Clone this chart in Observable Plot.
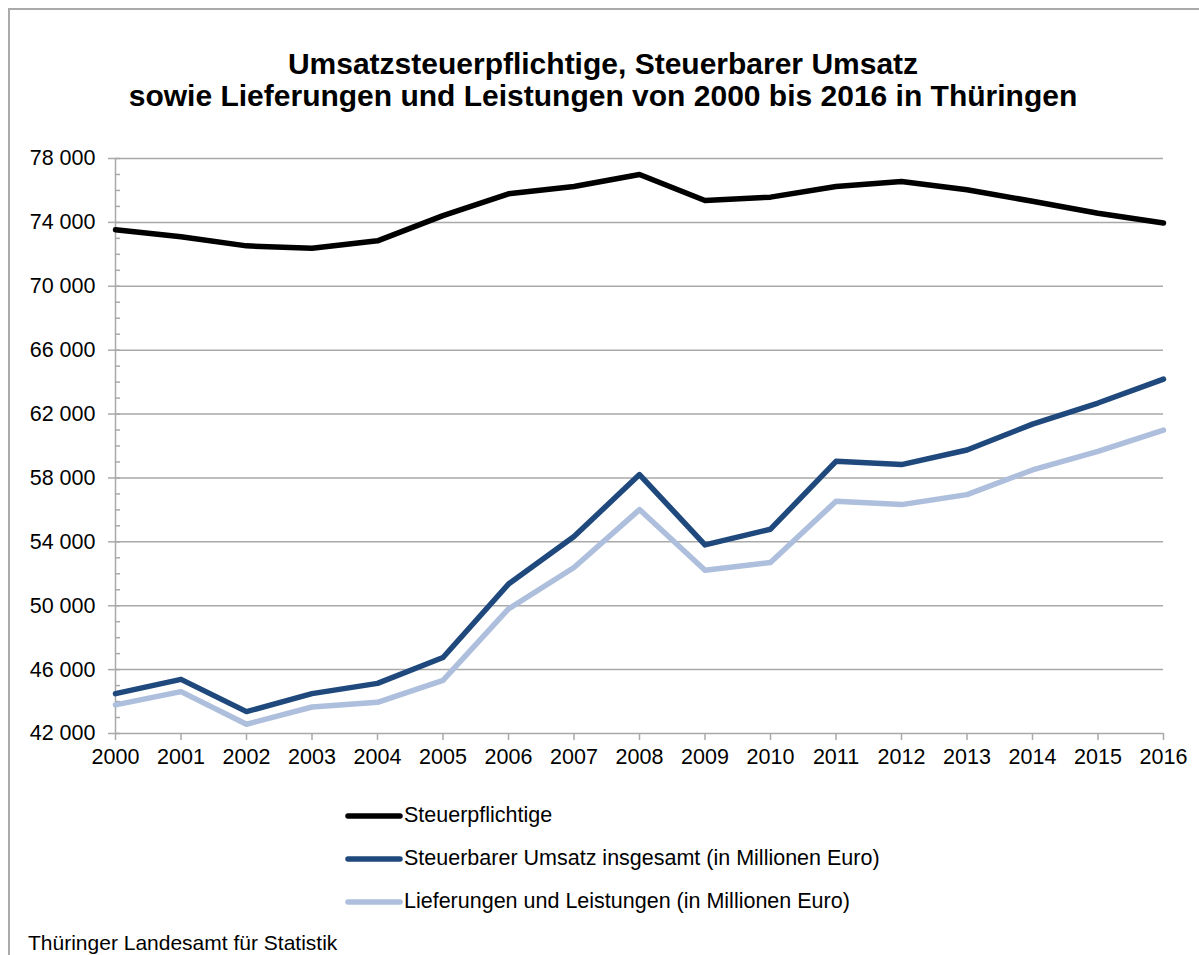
<!DOCTYPE html>
<html>
<head>
<meta charset="utf-8">
<script src="https://cdn.jsdelivr.net/npm/d3@7"></script>
<script src="https://cdn.jsdelivr.net/npm/@observablehq/plot@0.6"></script>
<style>
  html, body { margin: 0; padding: 0; background: #fff; }
  body { width: 1199px; height: 955px; position: relative; overflow: hidden;
         font-family: "Liberation Sans", Arial, sans-serif; color: #000; }
  #frame { position: absolute; left: 8px; top: 8px; width: 1400px; height: 1200px;
           border: 2px solid #aaaaaa; box-sizing: border-box; }
  #title { position: absolute; left: 0; top: 48px; width: 1206px; text-align: center;
           font-weight: bold; font-size: 30px; line-height: 32px; }
  #chart { position: absolute; left: 0; top: 130px; }
  #legend { position: absolute; left: 345px; top: 794px; font-size: 21.5px; }
  .row { display: flex; align-items: center; height: 43px; }
  .row svg { margin-right: 1px; }
  #source { position: absolute; left: 28px; top: 932px; font-size: 21px; line-height: 22px; }
</style>
</head>
<body>
<div id="frame"></div>
<div id="title">Umsatzsteuerpflichtige, Steuerbarer Umsatz<br>sowie Lieferungen und Leistungen von 2000 bis 2016 in Thüringen</div>
<div id="chart"></div>
<div id="legend"></div>
<div id="source">Thüringer Landesamt für Statistik</div>
<script>
const years = [2000, 2001, 2002, 2003, 2004, 2005, 2006, 2007, 2008, 2009, 2010, 2011, 2012, 2013, 2014, 2015, 2016];
const seriesNames = ["Steuerpflichtige", "Steuerbarer Umsatz insgesamt (in Millionen Euro)", "Lieferungen und Leistungen (in Millionen Euro)"];
const seriesColors = ["#000000", "#1f497d", "#adbfdc"];
const steuerpflichtige = [73540, 73100, 72530, 72380, 72845, 74420, 75790, 76250, 77000, 75370, 75580, 76250, 76560, 76040, 75320, 74570, 73960];
const umsatz = [44495, 45390, 43370, 44495, 45140, 46760, 51356, 54330, 58210, 53810, 54790, 59040, 58835, 59750, 61370, 62690, 64190];
const lieferungen = [43790, 44620, 42580, 43660, 43950, 45330, 49800, 52395, 56020, 52225, 52706, 56540, 56330, 56956, 58500, 59670, 60998];
const yMajorTicks = [42000, 46000, 50000, 54000, 58000, 62000, 66000, 70000, 74000, 78000];
const yMinorTicks = d3.range(42000, 78001, 1000);

const seriesValues = [steuerpflichtige, umsatz, lieferungen];
const data = seriesNames.flatMap((name, s) => years.map((year, i) => ({year, value: seriesValues[s][i], series: name})));

const gridColor = "#a9a9a9";
const fmt = d => d3.format(",")(d).replace(/,/g, " ");

const chart = Plot.plot({
  width: 1199,
  height: 650,
  marginLeft: 115,
  marginRight: 36,
  marginTop: 28,
  marginBottom: 47,
  style: {fontFamily: "'Liberation Sans', Arial, sans-serif", fontSize: "21.5px", color: "#000", background: "transparent"},
  x: {type: "linear", domain: [2000, 2016], axis: null},
  y: {domain: [42000, 78000], axis: null},
  color: {domain: seriesNames, range: seriesColors},
  marks: [
    Plot.gridY(yMajorTicks, {stroke: gridColor, strokeOpacity: 1, strokeWidth: 1.5}),
    Plot.ruleX([2000], {stroke: gridColor, strokeWidth: 1.5}),
    Plot.axisY(yMinorTicks, {tickSize: -5, text: null, label: null, stroke: gridColor, strokeWidth: 1.5}),
    Plot.axisY(yMajorTicks, {tickSize: 7, tickPadding: 13, tickFormat: fmt, stroke: gridColor, strokeWidth: 1.5, fill: "#000", label: null}),
    Plot.axisX(years, {tickSize: 7, tickPadding: 8, tickFormat: d => String(d), stroke: gridColor, strokeWidth: 1.5, fill: "#000", label: null}),
    Plot.lineY(data, {x: "year", y: "value", z: "series", stroke: "series", strokeWidth: 5.5, strokeLinejoin: "round", strokeLinecap: "round"})
  ]
});
document.getElementById("chart").appendChild(chart);

const legend = d3.select("#legend");
seriesNames.forEach((name, i) => {
  const row = legend.append("div").attr("class", "row");
  const svg = row.append("svg").attr("width", 58).attr("height", 10);
  svg.append("line").attr("x1", 3).attr("x2", 55).attr("y1", 5).attr("y2", 5)
    .attr("stroke", seriesColors[i]).attr("stroke-width", 5.5).attr("stroke-linecap", "round");
  row.append("span").text(name);
});
</script>
</body>
</html>
